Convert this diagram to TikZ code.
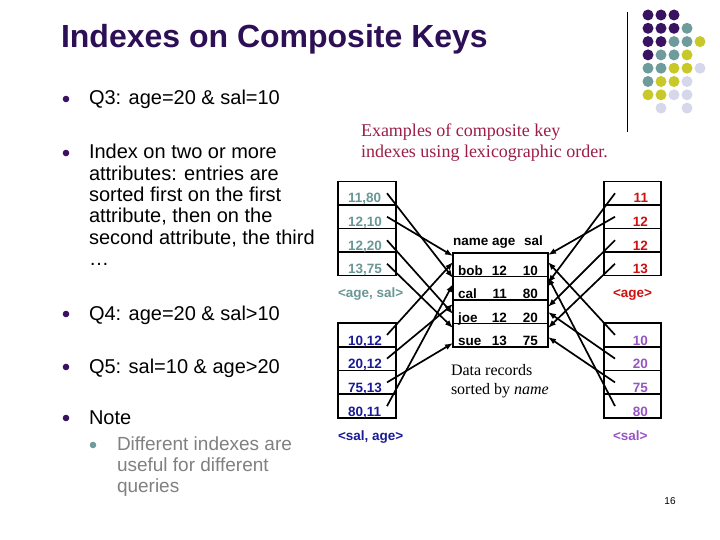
\documentclass[tikz,border=0pt]{standalone}
\usepackage{fontspec}
\setmainfont{Liberation Sans}
\newfontfamily\seriffont{Liberation Serif}
\usetikzlibrary{arrows.meta}
\definecolor{titlepurple}{RGB}{45,15,85}
\definecolor{dP}{RGB}{58,18,98}
\definecolor{dT}{RGB}{110,155,155}
\definecolor{dY}{RGB}{200,200,40}
\definecolor{dL}{RGB}{215,215,235}
\definecolor{capred}{RGB}{155,30,70}
\definecolor{ktealc}{RGB}{105,150,150}
\definecolor{kred}{RGB}{204,17,17}
\definecolor{knavy}{RGB}{26,26,150}
\definecolor{kpurple}{RGB}{150,85,195}
\definecolor{subgrey}{RGB}{128,128,128}
\begin{document}
\begin{tikzpicture}[x=1pt,y=-1pt,
  every node/.style={inner sep=0pt, outer sep=0pt},
  cellL/.style={draw, line width=1.5pt, minimum width=58pt, minimum height=23.5pt},
  cellR/.style={draw, line width=1.5pt, minimum width=57pt, minimum height=23.5pt},
  cellB/.style={draw, line width=1.5pt, minimum width=58pt, minimum height=23.75pt},
  cellBR/.style={draw, line width=1.5pt, minimum width=57pt, minimum height=23.75pt},
  rec/.style={draw, line width=1.5pt, minimum width=95pt, minimum height=23.5pt},
  dtxt/.style={font=\fontsize{13.5}{15}\selectfont\bfseries},
  arr/.style={-{Latex[length=8pt,width=6pt]}, line width=1.7pt},
  dot/.style={circle, minimum size=11pt},
  bul/.style={circle, fill=dP, minimum size=6.6pt},
  maintxt/.style={anchor=base west, font=\fontsize{20}{22}\selectfont},
  subtxt/.style={anchor=base west, font=\fontsize{19}{21}\selectfont, text=subgrey},
  captxt/.style={anchor=base west, font=\seriffont\fontsize{18}{20}\selectfont, text=capred},
  datatxt/.style={anchor=base west, font=\seriffont\fontsize{16}{18}\selectfont}
]
\useasboundingbox (0,0) rectangle (720,540);

% title
\node[anchor=base west, font=\fontsize{32}{34}\selectfont\bfseries, text=titlepurple] (title) at (61,48) {Indexes on Composite Keys};

% decorative dots
\foreach \r/\c/\col in {0/0/dP,0/1/dP,0/2/dP,
  1/0/dP,1/1/dP,1/2/dP,1/3/dT,
  2/0/dP,2/1/dP,2/2/dT,2/3/dT,2/4/dY,
  3/0/dP,3/1/dT,3/2/dT,3/3/dY,
  4/0/dT,4/1/dT,4/2/dY,4/3/dY,4/4/dL,
  5/0/dT,5/1/dY,5/2/dY,5/3/dL,
  6/0/dY,6/1/dY,6/2/dL,6/3/dL,
  7/1/dL,7/3/dL}
  \node[dot, fill=\col] (g\r\c) at ({648+13*\c},{15+13.3*\r}) {};
\draw[line width=1pt] (627,12) -- (627,132);

% left bullets
\node[bul] (b1) at (66,99) {};
\node[maintxt] (q3) at (89,105) {Q3: age=20 \& sal=10};
\node[bul] (b2) at (66,153) {};
\node[maintxt] (p1) at (89,159) {Index on two or more};
\node[maintxt] (p2) at (89,180.3) {attributes: entries are};
\node[maintxt] (p3) at (89,201.6) {sorted first on the first};
\node[maintxt] (p4) at (89,222.9) {attribute, then on the};
\node[maintxt] (p5) at (89,244.2) {second attribute, the third};
\node[maintxt] (p6) at (89,265.5) {\dots};
\node[bul] (b3) at (66,314) {};
\node[maintxt] (q4) at (89,320) {Q4: age=20 \& sal>10};
\node[bul] (b4) at (66,367) {};
\node[maintxt] (q5) at (89,373) {Q5: sal=10 \& age>20};
\node[bul] (b5) at (66,418) {};
\node[maintxt] (note) at (89,424.5) {Note};
\node[bul, fill=dT] (b6) at (93,445) {};
\node[subtxt] (s1) at (117,450) {Different indexes are};
\node[subtxt] (s2) at (117,471) {useful for different};
\node[subtxt] (s3) at (117,492) {queries};

% caption
\node[captxt] (c1) at (361,136.5) {Examples of composite key};
\node[captxt] (c2) at (361,158) {indexes using lexicographic order.};

% left top index <age, sal>
\node[cellL] (lt1) at (367,193.25) {};
\node[cellL] (lt2) at (367,216.75) {};
\node[cellL] (lt3) at (367,240.25) {};
\node[cellL] (lt4) at (367,263.75) {};
\node[dtxt, anchor=base west, text=ktealc] (tlt1) at (348,203) {11,80};
\node[dtxt, anchor=base west, text=ktealc] (tlt2) at (348,226.5) {12,10};
\node[dtxt, anchor=base west, text=ktealc] (tlt3) at (348,250) {12,20};
\node[dtxt, anchor=base west, text=ktealc] (tlt4) at (348,273.5) {13,75};
\node[dtxt, anchor=base west, text=ktealc] (llt) at (338,297) {<age, sal>};

% left bottom index <sal, age>
\node[cellB] (lb1) at (367,334.9) {};
\node[cellB] (lb2) at (367,358.6) {};
\node[cellB] (lb3) at (367,382.4) {};
\node[cellB] (lb4) at (367,406.1) {};
\node[dtxt, anchor=base west, text=knavy] (tlb1) at (348,345) {10,12};
\node[dtxt, anchor=base west, text=knavy] (tlb2) at (348,368.7) {20,12};
\node[dtxt, anchor=base west, text=knavy] (tlb3) at (348,392.5) {75,13};
\node[dtxt, anchor=base west, text=knavy] (tlb4) at (348,416.2) {80,11};
\node[dtxt, anchor=base west, text=knavy] (llb) at (338,440) {<sal, age>};

% right top index <age>
\node[cellR] (rt1) at (632.5,193.25) {};
\node[cellR] (rt2) at (632.5,216.75) {};
\node[cellR] (rt3) at (632.5,240.25) {};
\node[cellR] (rt4) at (632.5,263.75) {};
\node[dtxt, anchor=base east, text=kred] (trt1) at (648,203) {11};
\node[dtxt, anchor=base east, text=kred] (trt2) at (648,226.5) {12};
\node[dtxt, anchor=base east, text=kred] (trt3) at (648,250) {12};
\node[dtxt, anchor=base east, text=kred] (trt4) at (648,273.5) {13};
\node[dtxt, anchor=base west, text=kred] (lrt) at (613,297) {<age>};

% right bottom index <sal>
\node[cellBR] (rb1) at (632.5,334.9) {};
\node[cellBR] (rb2) at (632.5,358.6) {};
\node[cellBR] (rb3) at (632.5,382.4) {};
\node[cellBR] (rb4) at (632.5,406.1) {};
\node[dtxt, anchor=base east, text=kpurple] (trb1) at (648,345) {10};
\node[dtxt, anchor=base east, text=kpurple] (trb2) at (648,368.7) {20};
\node[dtxt, anchor=base east, text=kpurple] (trb3) at (648,392.5) {75};
\node[dtxt, anchor=base east, text=kpurple] (trb4) at (648,416.2) {80};
\node[dtxt, anchor=base west, text=kpurple] (lrb) at (613,440) {<sal>};

% data records
\node[dtxt, anchor=base west] (h1) at (453,245) {name};
\node[dtxt, anchor=base west] (h2) at (492,245) {age};
\node[dtxt, anchor=base west] (h3) at (524,245) {sal};
\node[rec] (r1) at (500.5,264.75) {};
\node[rec] (r2) at (500.5,288.25) {};
\node[rec] (r3) at (500.5,311.75) {};
\node[rec] (r4) at (500.5,335.25) {};
\foreach \n/\a/\s/\y in {bob/12/10/275, cal/11/80/298.5, joe/12/20/322, sue/13/75/345.5}{
  \node[dtxt, anchor=base west] (n\n) at (458,\y) {\n};
  \node[dtxt, anchor=base east] (a\n) at (507,\y) {\a};
  \node[dtxt, anchor=base east] (s\n) at (538,\y) {\s};
}
\node[datatxt] (d1) at (451,375.5) {Data records};
\node[datatxt] (d2) at (451,394) {sorted by \textit{name}};

% arrows from left indexes
\draw[arr] ([xshift=-9pt]lt1.east) -- ([yshift=10.25pt]r2.west);
\draw[arr] ([xshift=-9pt]lt2.east) -- ([yshift=8.75pt]r1.west);
\draw[arr] ([xshift=-9pt]lt3.east) -- ([yshift=-2.25pt]r3.west);
\draw[arr] ([xshift=-9pt]lt4.east) -- ([yshift=7.25pt]r4.west);
\draw[arr] ([xshift=-9pt]lb1.east) -- ([yshift=2.75pt]r1.west);
\draw[arr] ([xshift=-9pt]lb2.east) -- ([yshift=7.75pt]r3.west);
\draw[arr] ([xshift=-9pt]lb3.east) -- ([yshift=-7.75pt]r4.west);
\draw[arr] ([xshift=-9pt]lb4.east) -- ([yshift=4.25pt]r2.west);
% arrows from right indexes
\draw[arr] ([xshift=11pt]rt1.west) -- ([yshift=5.25pt]r2.east);
\draw[arr] ([xshift=11pt]rt2.west) -- ([yshift=9.75pt]r1.east);
\draw[arr] ([xshift=11pt]rt3.west) -- ([yshift=4.75pt]r3.east);
\draw[arr] ([xshift=11pt]rt4.west) -- ([yshift=7.25pt]r4.east);
\draw[arr] ([xshift=11pt]rb1.west) -- ([yshift=2.75pt]r1.east);
\draw[arr] ([xshift=11pt]rb2.west) -- ([yshift=-0.25pt]r3.east);
\draw[arr] ([xshift=11pt]rb3.west) -- ([yshift=-1.75pt]r4.east);
\draw[arr] ([xshift=11pt]rb4.west) -- ([yshift=11.25pt]r2.east);

% page number
\node[anchor=base, font=\fontsize{10}{12}\selectfont] (pg) at (670,504) {16};
\end{tikzpicture}
\end{document}
